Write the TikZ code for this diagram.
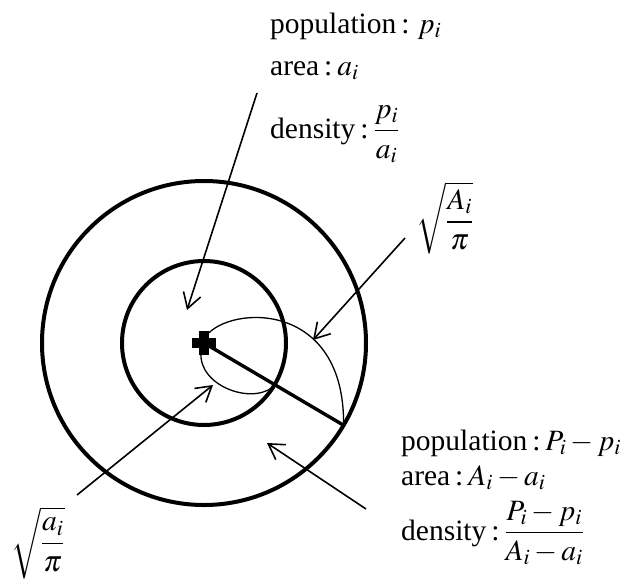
\documentclass[tikz,border=0pt]{standalone}
\usepackage{amsmath}
\usepackage{mathptmx}
\usepackage{fontspec}
\setmainfont{Liberation Serif}
\usetikzlibrary{arrows.meta}
\tikzset{
  ring/.style={line width=4pt},
  pointer/.style={line width=1.6pt,-{Straight Barb[length=15pt,width=18pt,line width=1.6pt]}},
  txt/.style={inner sep=0pt,font=\fontsize{29.5}{33}\selectfont},
}
\begin{document}
\begin{tikzpicture}[x=1pt,y=-1pt]
            \useasboundingbox (0,0) rectangle (621,579);
            \coordinate (c) at (204,343);
            \path (c) ++(-30.5:162pt) coordinate (rimA);
            \draw[ring] (c) circle (162pt);
            \draw[ring] (c) circle (82pt);
            \draw[line width=3.4pt] (c) -- (rimA);
            \fill (c) ++(-12,-5) rectangle ++(24,10);
            \fill (c) ++(-5,-12) rectangle ++(10,24);
            \coordinate (rima) at (273,387);
            \draw[line width=1.3pt] (206,336) .. controls (230,305) and (345,300) .. (rimA);
            \draw[line width=1.3pt] (201,352) .. controls (198,385) and (250,405) .. (rima);
            \node[txt,anchor=base west] (popin) at (270,33) {population\,:\;$p_i$};
            \node[txt,anchor=base west] (areain) at (270,75) {area\,:\,$a_i$};
            \node[txt,anchor=base west] (densin) at (270,138) {density\,:\,$\dfrac{p_i}{a_i}$};
            \node[txt,anchor=base west] (popout) at (401,450) {population\,:\,$P_i-p_i$};
            \node[txt,anchor=base west] (areaout) at (401,485) {area\,:\,$A_i-a_i$};
            \node[txt,anchor=base west] (densout) at (401,540) {density\,:\,$\dfrac{P_i-p_i}{A_i-a_i}$};
            \node[txt] (rA) at (445,218) {$\sqrt{\dfrac{A_i}{\pi}}$};
            \node[txt] (ra) at (38,543) {$\sqrt{\dfrac{a_i}{\pi}}$};
            \coordinate (s1) at (257,93);
            \coordinate (t1) at (187,310);
            \coordinate (s2) at (405,238);
            \coordinate (t2) at (313,340);
            \coordinate (s3) at (77,495);
            \coordinate (t3) at (213,385);
            \coordinate (s4) at (366,509);
            \coordinate (t4) at (267,443);
            \draw[pointer] (s1) -- (t1);
            \draw[pointer] (s2) -- (t2);
            \draw[pointer] (s3) -- (t3);
            \draw[pointer] (s4) -- (t4);
\end{tikzpicture}
\end{document}
